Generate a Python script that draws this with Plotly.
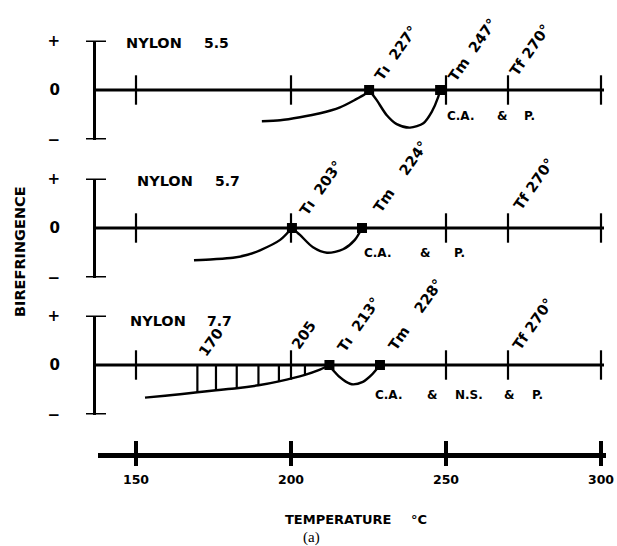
import plotly.graph_objects as go

W, H = 617, 546

# ---------------- data ----------------
AXIS_TICKS = [150, 200, 250, 300]
AXIS_TICK_LABELS = ["150", "200", "250", "300"]
PANEL_TICKS = [150, 200, 250, 270, 300]
Y_TICKS = [1, 0, -1]
Y_TICK_LABELS = ["+", "0", "\u2212"]
NYLON_NAMES = ["5.5", "5.7", "7.7"]

# panel 1 : nylon 5.5
P1_PRE_T = [190.6, 196.5, 202.9, 209.4, 215.8, 220.6, 223.9, 225.2]
P1_PRE_B = [-0.63, -0.61, -0.55, -0.47, -0.35, -0.20, -0.08, 0.0]
P1_LOOP_T = [225.2, 227.6, 230.9, 234.1, 238.4, 242.7, 245.4, 247.5, 248.1]
P1_LOOP_B = [0.0, -0.20, -0.51, -0.69, -0.76, -0.67, -0.44, -0.14, 0.0]
P1_MARK_T = [225.2, 248.1]
P1_LABELS = ["T\u0131\u00a0\u00a0227\u00b0", "Tm\u00a0\u00a0247\u00b0", "Tf\u00a0270\u00b0"]
P1_LABEL_T = [225.2, 248.1, 270]
P1_NOTE = ["C.A.", "&", "P."]

# panel 2 : nylon 5.7
P2_PRE_T = [168.7, 175.0, 181.3, 186.0, 190.0, 196.5, 200.3]
P2_PRE_B = [-0.65, -0.63, -0.60, -0.54, -0.45, -0.24, 0.0]
P2_LOOP_T = [200.3, 202.9, 207.1, 211.6, 216.8, 220.6, 222.9]
P2_LOOP_B = [0.0, -0.14, -0.39, -0.50, -0.43, -0.24, 0.0]
P2_MARK_T = [200.3, 222.9]
P2_LABELS = ["T\u0131\u00a0\u00a0203\u00b0", "Tm\u00a0\u00a0\u00a0\u00a0224\u00b0", "Tf\u00a0270\u00b0"]
P2_LABEL_T = [200.3, 222.9, 270]
P2_NOTE = ["C.A.", "&", "P."]

# panel 3 : nylon 7.7
P3_PRE_T = [152.9, 159.4, 164.2, 169.8, 175.8, 182.5, 189.5, 196.1, 204.5, 208.7, 212.4]
P3_PRE_B = [-0.66, -0.62, -0.59, -0.55, -0.51, -0.47, -0.41, -0.33, -0.20, -0.11, 0.0]
P3_LOOP_T = [212.4, 213.5, 216.8, 219.6, 223.2, 226.0, 228.7]
P3_LOOP_B = [0.0, -0.10, -0.30, -0.39, -0.34, -0.20, 0.0]
P3_MARK_T = [212.4, 228.7]
P3_HATCH_T = [169.8, 175.8, 182.5, 189.5, 196.1, 204.5]
P3_HATCH_B = [-0.55, -0.51, -0.47, -0.41, -0.33, -0.20]
P3_HATCH_LABELS = ["170", "205"]
P3_LABELS = ["T\u0131\u00a0\u00a0213\u00b0", "Tm\u00a0\u00a0\u00a0\u00a0228\u00b0", "Tf\u00a0270\u00b0"]
P3_LABEL_T = [212.4, 228.7, 270]
P3_NOTE = ["C.A.", "&", "N.S.", "&", "P."]

# ---------------- layout helpers ----------------
def px(x):
    return x / W

def py(y):
    return 1 - y / H

PX150, PXDEG = 136.0, 3.1          # pixel of 150 deg, pixels per degree
def T_of(xp):
    return 150 + (xp - PX150) / PXDEG

FONT = "DejaVu Sans"
ZEROS = [90, 228, 365]
HALF = 49.5
AX_X = 94
ANGLE = -55

fig = go.Figure()
yrefs = ["y", "y2", "y3"]
panels = [
    (P1_PRE_T, P1_PRE_B, P1_LOOP_T, P1_LOOP_B, P1_MARK_T),
    (P2_PRE_T, P2_PRE_B, P2_LOOP_T, P2_LOOP_B, P2_MARK_T),
    (P3_PRE_T, P3_PRE_B, P3_LOOP_T, P3_LOOP_B, P3_MARK_T),
]

line_style = dict(color="black", width=2.4, shape="spline", smoothing=0.8)
for i, (pt, pb, lt, lb, mt) in enumerate(panels):
    yr = yrefs[i]
    fig.add_trace(go.Scatter(x=PANEL_TICKS, y=[0] * len(PANEL_TICKS), yaxis=yr, mode="markers",
                             marker=dict(symbol="line-ns", size=21, line=dict(width=2.2, color="black")),
                             showlegend=False, hoverinfo="skip", cliponaxis=False))
    fig.add_trace(go.Scatter(x=pt, y=pb, yaxis=yr, mode="lines", line=line_style,
                             showlegend=False, hoverinfo="skip", cliponaxis=False))
    fig.add_trace(go.Scatter(x=lt, y=lb, yaxis=yr, mode="lines", line=line_style,
                             showlegend=False, hoverinfo="skip", cliponaxis=False))

# hatch lines panel 3
hx, hy = [], []
for t, b in zip(P3_HATCH_T, P3_HATCH_B):
    hx += [t, t, None]
    hy += [0, b, None]
fig.add_trace(go.Scatter(x=hx, y=hy, yaxis="y3", mode="lines", line=dict(color="black", width=2.2),
                         showlegend=False, hoverinfo="skip", cliponaxis=False))

for i, (_, _, _, _, mt) in enumerate(panels):
    fig.add_trace(go.Scatter(x=mt, y=[0] * len(mt), yaxis=yrefs[i], mode="markers",
                             marker=dict(symbol="square", size=10, color="black"),
                             showlegend=False, hoverinfo="skip", cliponaxis=False))

shapes = []
for i, z in enumerate(ZEROS):
    yr = yrefs[i]
    shapes.append(dict(type="line", xref="paper", yref=yr, x0=px(AX_X), x1=px(604), y0=0, y1=0,
                       line=dict(color="black", width=2.8)))
    for v in (1, -1):
        shapes.append(dict(type="line", xref="paper", yref=yr, x0=px(86), x1=px(106), y0=v, y1=v,
                           line=dict(color="black", width=3)))
for t in AXIS_TICKS:
    shapes.append(dict(type="line", xref="x", yref="paper", x0=t, x1=t, y0=py(441), y1=py(466),
                       line=dict(color="black", width=4)))

ann = []
def text(x, y, s, size=13, xanchor="left", bold=True, angle=0, family=FONT, yanchor="middle"):
    ann.append(dict(x=x, y=y, xref="paper", yref="paper", text=s, showarrow=False,
                    xanchor=xanchor, yanchor=yanchor, textangle=angle,
                    font=dict(family=family, size=size, color="black",
                              weight="bold" if bold else "normal")))

for (nx, numx, yy), name in zip([(124, 202, 43), (135, 213, 181), (128, 205, 321)], NYLON_NAMES):
    text(px(nx), py(yy), "NYLON", size=14.5)
    text(px(numx), py(yy), name, size=14)

note_pos = [([445, 495, 522], 116), ([362, 418, 452], 253), ([373, 425, 453, 502, 530], 395)]
for (xs, yy), words in zip(note_pos, [P1_NOTE, P2_NOTE, P3_NOTE]):
    for xx, w in zip(xs, words):
        text(px(xx), py(yy), w, size=12)

shifts = [[(0, 4), (2, 3), (-4, 8)], [(2, 7), (5, 10), (0, 12)], [(2, 7), (2, 9), (-1, 9)]]
for i, (labs, lts) in enumerate([(P1_LABELS, P1_LABEL_T), (P2_LABELS, P2_LABEL_T), (P3_LABELS, P3_LABEL_T)]):
    for (s, t), (dx, dy) in zip(zip(labs, lts), shifts[i]):
        ann.append(dict(x=t, y=0, xref="x", yref=yrefs[i], text=s, showarrow=False,
                        xanchor="left", yanchor="bottom", textangle=ANGLE, xshift=dx, yshift=dy,
                        font=dict(family=FONT, size=14.5, color="black", weight="bold")))
for t, s, dx, dy in [(P3_HATCH_T[0], P3_HATCH_LABELS[0], -4, 3),
                     (P3_HATCH_T[-1], P3_HATCH_LABELS[1], -19, 10)]:
    ann.append(dict(x=t, y=0, xref="x", yref="y3", text=s, showarrow=False,
                    xanchor="left", yanchor="bottom", textangle=ANGLE, xshift=dx, yshift=dy,
                    font=dict(family=FONT, size=14.5, color="black", weight="bold")))

text(px(20), py(252), "BIREFRINGENCE", size=14.5, xanchor="center", angle=-90)
text(px(283), py(519), "TEMPERATURE", size=13)
text(px(409), py(519), "\u00b0C", size=13)
text(px(311), py(537), "(a)", size=15, xanchor="center", family="Liberation Serif", bold=False)

yaxis_common = dict(range=[-1, 1], tickvals=Y_TICKS, ticktext=Y_TICK_LABELS, showgrid=False,
                    zeroline=False, showline=True, linecolor="black", linewidth=3, ticks="",
                    anchor="free", position=px(AX_X), ticklabelstandoff=30, automargin=False,
                    tickfont=dict(family=FONT, size=15, color="black", weight="bold"), fixedrange=True)

layout_axes = {}
for i, z in enumerate(ZEROS):
    key = "yaxis" if i == 0 else f"yaxis{i + 1}"
    layout_axes[key] = dict(yaxis_common, domain=[py(z + HALF), py(z - HALF)])

fig.update_layout(
    width=W, height=H, margin=dict(l=0, r=0, t=0, b=0, pad=0, autoexpand=False),
    paper_bgcolor="white", plot_bgcolor="white", showlegend=False,
    xaxis=dict(domain=[px(98), px(606)], range=[T_of(98), T_of(606)], anchor="free",
               position=py(455), showline=True, linecolor="black", linewidth=4.5,
               tickvals=AXIS_TICKS, ticktext=AXIS_TICK_LABELS, ticks="", showgrid=False,
               zeroline=False, ticklabelstandoff=11, automargin=False,
               tickfont=dict(family=FONT, size=12.5, color="black", weight="bold"), fixedrange=True),
    shapes=shapes, annotations=ann,
    **layout_axes,
)

fig.write_html("out.html")
